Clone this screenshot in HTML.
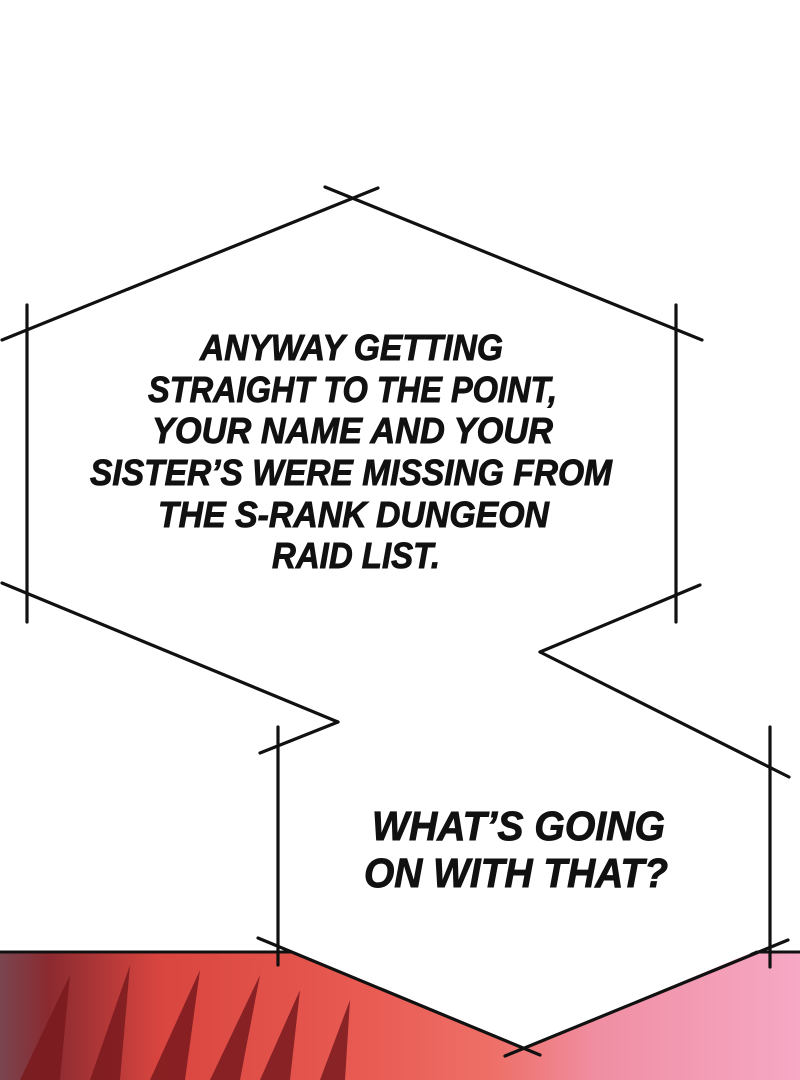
<!DOCTYPE html>
<html><head><meta charset="utf-8"><style>
html,body{margin:0;padding:0;background:#fff;}
svg{display:block}
</style></head><body>
<svg width="800" height="1080" viewBox="0 0 800 1080" xmlns="http://www.w3.org/2000/svg">
<defs>
<linearGradient id="bg" x1="0" y1="0" x2="1" y2="0">
<stop offset="0" stop-color="#7a4650"/>
<stop offset="0.06" stop-color="#8a2a30"/>
<stop offset="0.2" stop-color="#d9453f"/>
<stop offset="0.45" stop-color="#e85a52"/>
<stop offset="0.62" stop-color="#ee7068"/>
<stop offset="0.75" stop-color="#f08fa4"/>
<stop offset="1" stop-color="#f6a8c4"/>
</linearGradient>
</defs>
<rect x="0" y="0" width="800" height="1080" fill="#fff"/>
<rect x="0" y="952" width="800" height="128" fill="url(#bg)"/>
<g fill="#7a1a1e" opacity="0.85">
<polygon points="20,1080 70,975 60,1080"/>
<polygon points="90,1080 130,965 120,1080"/>
<polygon points="150,1080 200,970 185,1080"/>
<polygon points="210,1080 260,975 240,1080"/>
<polygon points="260,1080 300,990 290,1080"/>
<polygon points="320,1080 350,1000 345,1080"/>
</g>
<line x1="0" y1="952" x2="800" y2="952" stroke="#111" stroke-width="3"/>
<polygon points="27,325 355,195 676,325 676,598 540,653 770,760 770,945 523,1048 278,945 278,735 330,718 27,590" fill="#fff"/>
<g stroke="#111" stroke-width="3.2" fill="none" stroke-linecap="round">
<line x1="2" y1="340" x2="378" y2="188"/>
<line x1="325" y1="187" x2="702" y2="340"/>
<line x1="27" y1="305" x2="27" y2="622"/>
<line x1="676" y1="305" x2="676" y2="622"/>
<line x1="2" y1="583" x2="338" y2="722"/>
<line x1="338" y1="722" x2="260" y2="753"/>
<line x1="700" y1="585" x2="540" y2="652"/>
<line x1="540" y1="652" x2="789" y2="777"/>
<line x1="278" y1="727" x2="278" y2="965"/>
<line x1="770" y1="727" x2="770" y2="967"/>
<line x1="258" y1="938" x2="540" y2="1055"/>
<line x1="505" y1="1056" x2="788" y2="940"/>
</g>
<g font-family="'Liberation Sans', sans-serif" font-weight="bold" font-style="italic" fill="#111" stroke="#111" stroke-width="0.9" text-anchor="start">
<text x="200" y="360" font-size="36" textLength="303" lengthAdjust="spacingAndGlyphs">ANYWAY GETTING</text>
<text x="148" y="402" font-size="36" textLength="409" lengthAdjust="spacingAndGlyphs">STRAIGHT TO THE POINT,</text>
<text x="152" y="443" font-size="36" textLength="401" lengthAdjust="spacingAndGlyphs">YOUR NAME AND YOUR</text>
<text x="90" y="485" font-size="36" textLength="522" lengthAdjust="spacingAndGlyphs">SISTER’S WERE MISSING FROM</text>
<text x="158" y="527" font-size="36" textLength="391" lengthAdjust="spacingAndGlyphs">THE S-RANK DUNGEON</text>
<text x="272" y="568" font-size="36" textLength="168" lengthAdjust="spacingAndGlyphs">RAID LIST.</text>
<text x="372" y="840" font-size="41" textLength="293" lengthAdjust="spacingAndGlyphs">WHAT’S GOING</text>
<text x="364" y="887" font-size="41" textLength="304" lengthAdjust="spacingAndGlyphs">ON WITH THAT?</text>
</g>
</svg>
</body></html>
